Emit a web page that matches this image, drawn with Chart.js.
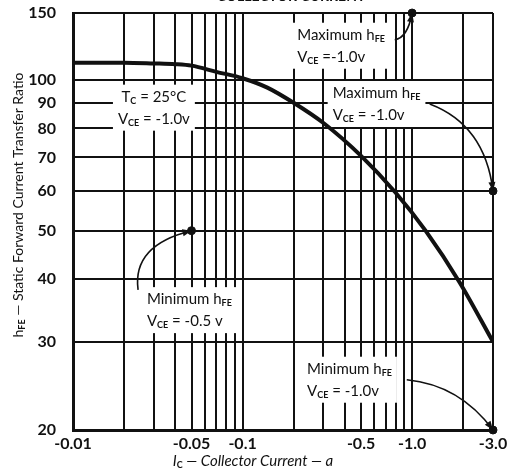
<!DOCTYPE html>
<html>
<head>
<meta charset="utf-8">
<script src="https://cdn.jsdelivr.net/npm/chart.js@4.4.1/dist/chart.umd.min.js"></script>
<style>
  html, body { margin: 0; padding: 0; background: #fff; }
  canvas { display: block; }
</style>
</head>
<body>
<canvas id="chart" width="520" height="476"></canvas>
<script>
// hFE vs collector current (log-log), typical curve at Tc = 25°C, VCE = -1.0 V.
// The printed grid squeezes the 100..150 band, so the y axis uses a small custom
// log scale that compresses everything above the break.

// ─── Data ────────────────────────────────────────────────────────────────────

const IC = [0.01, 0.02, 0.03, 0.04, 0.05, 0.07, 0.1, 0.14, 0.2, 0.3, 0.5, 0.8, 1.2, 1.9, 3.0];
const HFE = [111, 111, 110.5, 110, 109, 105, 101, 96.5, 90, 82, 70.5, 59.5, 50, 39.5, 30];

// Spec limits the arrows point at (max at -1.0 / -3.0 A, min at -0.05 / -3.0 A)
const SPEC_IC = [1.0, 3.0, 0.05, 3.0];
const SPEC_HFE = [150, 60, 50, 20];

const X_GRID = [
  0.01, 0.02, 0.03, 0.04, 0.05, 0.06, 0.07, 0.08, 0.09,
  0.1, 0.2, 0.3, 0.4, 0.5, 0.6, 0.7, 0.8, 0.9,
  1, 2, 3,
];
const X_LABELED = [0.01, 0.05, 0.1, 0.5, 1, 3];
const X_LABEL_TEXT = ["-0.01", "-0.05", "-0.1", "-0.5", "-1.0", "-3.0"];
const Y_GRID = [20, 30, 40, 50, 60, 70, 80, 90, 100, 150];

// Text blocks on the plot, anchored in data coordinates
const NOTES = [
  { x: 0.03, y: 88, align: "center", lines: ["T_{C} = 25°C", "V_{CE} = -1.0v"] },
  { x: 0.21, y: 123, align: "left", lines: ["Maximum h_{FE}", "V_{CE} =-1.0v"] },
  { x: 0.34, y: 89.5, align: "left", lines: ["Maximum h_{FE}", "V_{CE} = -1.0v"] },
  { x: 0.0273, y: 34.7, align: "left", lines: ["Minimum h_{FE}", "V_{CE} = -0.5 v"] },
  { x: 0.24, y: 25.2, align: "left", lines: ["Minimum h_{FE}", "V_{CE} = -1.0v"] },
];

// Leader arrows: start, bend, tip (data coordinates)
const ARROWS = [
  { from: [0.79, 127.5], ctrl: [0.94, 129], to: [1.0, 150] },
  { from: [1.27, 89.5], ctrl: [2.69, 81.3], to: [3.0, 60] },
  { from: [0.0242, 38.1], ctrl: [0.0223, 46.8], to: [0.05, 50] },
  { from: [0.93, 25.2], ctrl: [1.91, 24.6], to: [3.0, 20] },
];

// ─── Styles ──────────────────────────────────────────────────────────────────

const INK = "#111111";
const FAMILY = "Lato, 'DejaVu Sans', sans-serif";
const MAIN_FONT = `15px ${FAMILY}`;
const SUB_FONT = `bold 9px ${FAMILY}`;
const LINE_H = 22;

// ─── Compressed-top log scale ────────────────────────────────────────────────

const BREAK = 100;
const SQUEEZE = 0.758; // 150 lands where plain log would put ~136

const warp = (v) => (v <= BREAK ? v : BREAK * Math.pow(v / BREAK, SQUEEZE));
const unwarp = (v) => (v <= BREAK ? v : BREAK * Math.pow(v / BREAK, 1 / SQUEEZE));

class BrokenLogScale extends Chart.LogarithmicScale {
  static id = "brokenLog";
  configure() {
    super.configure();
    this._valueRange = Math.log10(warp(this.max)) - this._startValue;
  }
  getPixelForValue(value) {
    return super.getPixelForValue(warp(value));
  }
  getValueForPixel(pixel) {
    return unwarp(super.getValueForPixel(pixel));
  }
}
Chart.register(BrokenLogScale);

// ─── Rich text helpers (handles _{sub}) ──────────────────────────────────────

function parseRich(str) {
  const parts = [];
  str.split(/(_\{[^}]*\})/).forEach((s) => {
    if (!s) return;
    if (s.startsWith("_{")) parts.push({ t: s.slice(2, -1), sub: true });
    else parts.push({ t: s, sub: false });
  });
  return parts;
}

function richWidth(ctx, parts, font) {
  let w = 0;
  parts.forEach((p) => {
    ctx.font = p.sub ? SUB_FONT : font;
    w += ctx.measureText(p.t).width;
  });
  return w;
}

function drawRich(ctx, parts, x, y, font) {
  ctx.textBaseline = "middle";
  ctx.textAlign = "left";
  parts.forEach((p) => {
    ctx.font = p.sub ? SUB_FONT : font;
    ctx.fillText(p.t, x, p.sub ? y + 4 : y);
    x += ctx.measureText(p.t).width;
  });
}

function layoutNote(chart, note) {
  const ctx = chart.ctx;
  const px = chart.scales.x.getPixelForValue(note.x);
  const py = chart.scales.y.getPixelForValue(note.y);
  const rows = note.lines.map((l) => parseRich(l));
  const widths = rows.map((r) => richWidth(ctx, r, MAIN_FONT));
  const maxW = Math.max(...widths);
  const top = py - (rows.length * LINE_H) / 2;
  return {
    rows: rows.map((r, i) => ({
      parts: r,
      x: note.align === "center" ? px - widths[i] / 2 : px,
      y: top + LINE_H * (i + 0.5),
    })),
    box: {
      x: note.align === "center" ? px - maxW / 2 : px,
      y: top,
      w: maxW,
      h: rows.length * LINE_H,
    },
  };
}

// ─── Plugin: annotation boxes, text, arrows, titles ──────────────────────────

const notesPlugin = {
  id: "notes",
  beforeDatasetsDraw(chart) {
    const ctx = chart.ctx;
    ctx.save();
    ctx.fillStyle = "#fff";
    NOTES.forEach((n) => {
      const { box } = layoutNote(chart, n);
      ctx.fillRect(box.x - 5, box.y - 1, box.w + 10, box.h + 2);
    });
    ctx.restore();
  },
  afterDatasetsDraw(chart) {
    const ctx = chart.ctx;
    const { x: xs, y: ys } = chart.scales;
    ctx.save();
    ctx.fillStyle = INK;
    NOTES.forEach((n) => {
      layoutNote(chart, n).rows.forEach((r) => drawRich(ctx, r.parts, r.x, r.y, MAIN_FONT));
    });

    ctx.strokeStyle = INK;
    ctx.lineWidth = 1.6;
    ARROWS.forEach((a) => {
      const p0 = [xs.getPixelForValue(a.from[0]), ys.getPixelForValue(a.from[1])];
      const c = [xs.getPixelForValue(a.ctrl[0]), ys.getPixelForValue(a.ctrl[1])];
      const p1 = [xs.getPixelForValue(a.to[0]), ys.getPixelForValue(a.to[1])];
      ctx.beginPath();
      ctx.moveTo(p0[0], p0[1]);
      ctx.quadraticCurveTo(c[0], c[1], p1[0], p1[1]);
      ctx.stroke();
      // arrow head
      const ang = Math.atan2(p1[1] - c[1], p1[0] - c[0]);
      const len = 9, half = 3.5;
      ctx.beginPath();
      ctx.moveTo(p1[0], p1[1]);
      ctx.lineTo(p1[0] - len * Math.cos(ang) + half * Math.sin(ang), p1[1] - len * Math.sin(ang) - half * Math.cos(ang));
      ctx.lineTo(p1[0] - len * Math.cos(ang) - half * Math.sin(ang), p1[1] - len * Math.sin(ang) + half * Math.cos(ang));
      ctx.closePath();
      ctx.fill();
    });
    ctx.restore();
  },
  afterDraw(chart) {
    const ctx = chart.ctx;
    const area = chart.chartArea;
    ctx.save();
    ctx.fillStyle = INK;

    // chart heading, cropped off at the top edge of the scan
    ctx.font = `bold 14px ${FAMILY}`;
    ctx.textAlign = "center";
    ctx.textBaseline = "alphabetic";
    ctx.fillText("COLLECTOR CURRENT", 291, 1);

    // x axis title
    const xt = parseRich("I_{C} — Collector Current — a");
    const xFont = `italic 15px ${FAMILY}`;
    const xw = richWidth(ctx, xt, xFont);
    drawRich(ctx, xt, area.left + 180 - xw / 2, 461, xFont);

    // y axis title (rotated)
    const yt = parseRich("h_{FE} — Static Forward Current Transfer Ratio");
    const yFont = `14px ${FAMILY}`;
    const yw = richWidth(ctx, yt, yFont);
    ctx.translate(18, 205);
    ctx.rotate(-Math.PI / 2);
    drawRich(ctx, yt, -yw / 2, 0, yFont);
    ctx.restore();
  },
};

// ─── Chart ───────────────────────────────────────────────────────────────────

const gridStyle = {
  color: INK,
  lineWidth: 2,
  drawTicks: false,
};

const tickFont = { family: FAMILY, size: 16, weight: "bold" };

new Chart(document.getElementById("chart"), {
  type: "line",
  data: {
    datasets: [
      {
        data: IC.map((v, i) => ({ x: v, y: HFE[i] })),
        borderColor: INK,
        borderWidth: 4,
        pointRadius: 0,
        cubicInterpolationMode: "monotone",
        fill: false,
      },
      {
        data: SPEC_IC.map((v, i) => ({ x: v, y: SPEC_HFE[i] })),
        showLine: false,
        pointRadius: 4,
        pointBackgroundColor: INK,
        pointBorderColor: INK,
        clip: false,
      },
    ],
  },
  options: {
    responsive: false,
    animation: false,
    layout: { padding: { top: 13, right: 27, left: 0, bottom: 0 } },
    plugins: {
      legend: { display: false },
      tooltip: { enabled: false },
    },
    scales: {
      x: {
        type: "logarithmic",
        min: 0.01,
        max: 3,
        afterBuildTicks: (s) => { s.ticks = X_GRID.map((v) => ({ value: v })); },
        afterFit: (s) => { s.height = 46; },
        grid: gridStyle,
        border: { display: true, color: INK, width: 3 },
        ticks: {
          autoSkip: false,
          maxRotation: 0,
          padding: 4,
          color: INK,
          font: tickFont,
          callback: (v) => {
            const i = X_LABELED.findIndex((l) => Math.abs(l - v) < 1e-9);
            return i < 0 ? "" : X_LABEL_TEXT[i];
          },
        },
      },
      y: {
        type: "brokenLog",
        min: 20,
        max: 150,
        afterBuildTicks: (s) => { s.ticks = Y_GRID.map((v) => ({ value: v })); },
        // fixed gutter; drop the label padding Chart.js adds above/below the axis
        afterFit: (s) => { s.width = 73; s.paddingTop = 0; s.paddingBottom = 0; },
        grid: gridStyle,
        border: { display: true, color: INK, width: 3 },
        ticks: {
          autoSkip: false,
          padding: 17,
          color: INK,
          font: tickFont,
          callback: (v) => String(v),
        },
      },
    },
  },
  plugins: [notesPlugin],
});
</script>
</body>
</html>
